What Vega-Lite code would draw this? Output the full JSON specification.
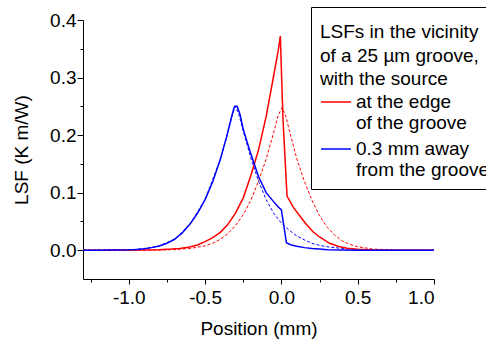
{
  "$schema": "https://vega.github.io/schema/vega-lite/v6.json",
  "width": 351,
  "height": 259,
  "autosize": {"type": "none"},
  "padding": {"left": 83, "top": 20, "right": 52, "bottom": 60},
  "background": "white",
  "config": {
    "font": "Liberation Sans",
    "view": {"stroke": null},
    "axis": {
      "domainColor": "black", "tickColor": "black", "labelColor": "black", "titleColor": "black",
      "labelFont": "Liberation Sans", "titleFont": "Liberation Sans",
      "labelFontSize": 19, "titleFontSize": 19, "titleFontWeight": "normal",
      "grid": false, "domainWidth": 1, "tickWidth": 1
    },
    "legend": {
      "orient": "none", "legendX": 228, "legendY": -13,
      "strokeColor": "black", "strokeWidth": 1, "padding": 9, "fillColor": "white",
      "titleFont": "Liberation Sans", "titleFontSize": 19, "titleFontWeight": "normal", "titleColor": "black",
      "titleLineHeight": 23.5, "titlePadding": 4,
      "labelFont": "Liberation Sans", "labelFontSize": 19, "labelColor": "black", "labelLineHeight": 23.5,
      "labelLimit": 400, "labelOffset": 4, "labelBaseline": "middle",
      "symbolType": "stroke", "symbolSize": 900, "symbolStrokeWidth": 1.5, "symbolDash": [],
      "rowPadding": -2
    }
  },
  "data": {
    "values": [
      {"s": "edge", "k": "s", "x": -1.3, "v": 0},
      {"s": "edge", "k": "s", "x": -1.1, "v": 0.0001},
      {"s": "edge", "k": "s", "x": -1.0, "v": 0.0002},
      {"s": "edge", "k": "s", "x": -0.9, "v": 0.0005},
      {"s": "edge", "k": "s", "x": -0.8, "v": 0.001},
      {"s": "edge", "k": "s", "x": -0.72, "v": 0.002},
      {"s": "edge", "k": "s", "x": -0.666, "v": 0.003},
      {"s": "edge", "k": "s", "x": -0.6, "v": 0.0055},
      {"s": "edge", "k": "s", "x": -0.55, "v": 0.009},
      {"s": "edge", "k": "s", "x": -0.5, "v": 0.015},
      {"s": "edge", "k": "s", "x": -0.45, "v": 0.022},
      {"s": "edge", "k": "s", "x": -0.4, "v": 0.031},
      {"s": "edge", "k": "s", "x": -0.35, "v": 0.045},
      {"s": "edge", "k": "s", "x": -0.3, "v": 0.065},
      {"s": "edge", "k": "s", "x": -0.25, "v": 0.091},
      {"s": "edge", "k": "s", "x": -0.2, "v": 0.13},
      {"s": "edge", "k": "s", "x": -0.15, "v": 0.174},
      {"s": "edge", "k": "s", "x": -0.1, "v": 0.232},
      {"s": "edge", "k": "s", "x": -0.05, "v": 0.304},
      {"s": "edge", "k": "s", "x": -0.02, "v": 0.348},
      {"s": "edge", "k": "s", "x": -0.007, "v": 0.372},
      {"s": "edge", "k": "s", "x": 0.0105, "v": 0.227},
      {"s": "edge", "k": "s", "x": 0.037, "v": 0.094},
      {"s": "edge", "k": "s", "x": 0.05, "v": 0.088},
      {"s": "edge", "k": "s", "x": 0.08, "v": 0.074},
      {"s": "edge", "k": "s", "x": 0.12, "v": 0.06},
      {"s": "edge", "k": "s", "x": 0.16, "v": 0.046},
      {"s": "edge", "k": "s", "x": 0.207, "v": 0.032},
      {"s": "edge", "k": "s", "x": 0.25, "v": 0.023},
      {"s": "edge", "k": "s", "x": 0.316, "v": 0.012},
      {"s": "edge", "k": "s", "x": 0.37, "v": 0.007},
      {"s": "edge", "k": "s", "x": 0.43, "v": 0.0035},
      {"s": "edge", "k": "s", "x": 0.5, "v": 0.0015},
      {"s": "edge", "k": "s", "x": 0.6, "v": 0.0005},
      {"s": "edge", "k": "s", "x": 0.8, "v": 0.0001},
      {"s": "edge", "k": "s", "x": 1.0, "v": 0},

      {"s": "edge", "k": "d", "x": -1.3, "v": 0},
      {"s": "edge", "k": "d", "x": -1.0, "v": 0.0001},
      {"s": "edge", "k": "d", "x": -0.8, "v": 0.0004},
      {"s": "edge", "k": "d", "x": -0.7, "v": 0.001},
      {"s": "edge", "k": "d", "x": -0.6, "v": 0.003},
      {"s": "edge", "k": "d", "x": -0.5, "v": 0.0075},
      {"s": "edge", "k": "d", "x": -0.45, "v": 0.012},
      {"s": "edge", "k": "d", "x": -0.4, "v": 0.019},
      {"s": "edge", "k": "d", "x": -0.35, "v": 0.029},
      {"s": "edge", "k": "d", "x": -0.3, "v": 0.043},
      {"s": "edge", "k": "d", "x": -0.25, "v": 0.062},
      {"s": "edge", "k": "d", "x": -0.2, "v": 0.087},
      {"s": "edge", "k": "d", "x": -0.15, "v": 0.12},
      {"s": "edge", "k": "d", "x": -0.1, "v": 0.158},
      {"s": "edge", "k": "d", "x": -0.05, "v": 0.205},
      {"s": "edge", "k": "d", "x": -0.02, "v": 0.235},
      {"s": "edge", "k": "d", "x": 0.005, "v": 0.248},
      {"s": "edge", "k": "d", "x": 0.03, "v": 0.232},
      {"s": "edge", "k": "d", "x": 0.05, "v": 0.21},
      {"s": "edge", "k": "d", "x": 0.1, "v": 0.16},
      {"s": "edge", "k": "d", "x": 0.15, "v": 0.12},
      {"s": "edge", "k": "d", "x": 0.2, "v": 0.087},
      {"s": "edge", "k": "d", "x": 0.25, "v": 0.06},
      {"s": "edge", "k": "d", "x": 0.3, "v": 0.04},
      {"s": "edge", "k": "d", "x": 0.35, "v": 0.026},
      {"s": "edge", "k": "d", "x": 0.4, "v": 0.016},
      {"s": "edge", "k": "d", "x": 0.45, "v": 0.01},
      {"s": "edge", "k": "d", "x": 0.5, "v": 0.006},
      {"s": "edge", "k": "d", "x": 0.6, "v": 0.002},
      {"s": "edge", "k": "d", "x": 0.7, "v": 0.0008},
      {"s": "edge", "k": "d", "x": 0.8, "v": 0.0003},
      {"s": "edge", "k": "d", "x": 1.0, "v": 0},

      {"s": "away", "k": "s", "x": -1.3, "v": 0},
      {"s": "away", "k": "s", "x": -1.2, "v": 0.0001},
      {"s": "away", "k": "s", "x": -1.1, "v": 0.0003},
      {"s": "away", "k": "s", "x": -1.0, "v": 0.0008},
      {"s": "away", "k": "s", "x": -0.95, "v": 0.0014},
      {"s": "away", "k": "s", "x": -0.9, "v": 0.0025},
      {"s": "away", "k": "s", "x": -0.85, "v": 0.0045},
      {"s": "away", "k": "s", "x": -0.8, "v": 0.0075},
      {"s": "away", "k": "s", "x": -0.75, "v": 0.012},
      {"s": "away", "k": "s", "x": -0.7, "v": 0.019},
      {"s": "away", "k": "s", "x": -0.65, "v": 0.03},
      {"s": "away", "k": "s", "x": -0.6, "v": 0.045},
      {"s": "away", "k": "s", "x": -0.55, "v": 0.064},
      {"s": "away", "k": "s", "x": -0.5, "v": 0.088},
      {"s": "away", "k": "s", "x": -0.45, "v": 0.119},
      {"s": "away", "k": "s", "x": -0.4, "v": 0.158},
      {"s": "away", "k": "s", "x": -0.36, "v": 0.196},
      {"s": "away", "k": "s", "x": -0.33, "v": 0.228},
      {"s": "away", "k": "s", "x": -0.31, "v": 0.248},
      {"s": "away", "k": "s", "x": -0.305, "v": 0.25},
      {"s": "away", "k": "s", "x": -0.29, "v": 0.25},
      {"s": "away", "k": "s", "x": -0.27, "v": 0.235},
      {"s": "away", "k": "s", "x": -0.25, "v": 0.21},
      {"s": "away", "k": "s", "x": -0.2, "v": 0.167},
      {"s": "away", "k": "s", "x": -0.15, "v": 0.128},
      {"s": "away", "k": "s", "x": -0.1, "v": 0.1},
      {"s": "away", "k": "s", "x": -0.05, "v": 0.084},
      {"s": "away", "k": "s", "x": -0.02, "v": 0.075},
      {"s": "away", "k": "s", "x": 0.0, "v": 0.07},
      {"s": "away", "k": "s", "x": 0.033, "v": 0.013},
      {"s": "away", "k": "s", "x": 0.06, "v": 0.0095},
      {"s": "away", "k": "s", "x": 0.1, "v": 0.0068},
      {"s": "away", "k": "s", "x": 0.15, "v": 0.0045},
      {"s": "away", "k": "s", "x": 0.2, "v": 0.003},
      {"s": "away", "k": "s", "x": 0.25, "v": 0.002},
      {"s": "away", "k": "s", "x": 0.3, "v": 0.001},
      {"s": "away", "k": "s", "x": 0.4, "v": 0.0003},
      {"s": "away", "k": "s", "x": 0.5, "v": 0},
      {"s": "away", "k": "s", "x": 1.0, "v": 0},

      {"s": "away", "k": "d", "x": -1.3, "v": 0},
      {"s": "away", "k": "d", "x": -1.0, "v": 0.0008},
      {"s": "away", "k": "d", "x": -0.9, "v": 0.0025},
      {"s": "away", "k": "d", "x": -0.8, "v": 0.0075},
      {"s": "away", "k": "d", "x": -0.7, "v": 0.019},
      {"s": "away", "k": "d", "x": -0.6, "v": 0.045},
      {"s": "away", "k": "d", "x": -0.5, "v": 0.088},
      {"s": "away", "k": "d", "x": -0.4, "v": 0.158},
      {"s": "away", "k": "d", "x": -0.35, "v": 0.205},
      {"s": "away", "k": "d", "x": -0.32, "v": 0.237},
      {"s": "away", "k": "d", "x": -0.3, "v": 0.25},
      {"s": "away", "k": "d", "x": -0.28, "v": 0.237},
      {"s": "away", "k": "d", "x": -0.25, "v": 0.207},
      {"s": "away", "k": "d", "x": -0.2, "v": 0.16},
      {"s": "away", "k": "d", "x": -0.15, "v": 0.12},
      {"s": "away", "k": "d", "x": -0.1, "v": 0.088},
      {"s": "away", "k": "d", "x": -0.05, "v": 0.064},
      {"s": "away", "k": "d", "x": 0.0, "v": 0.047},
      {"s": "away", "k": "d", "x": 0.05, "v": 0.035},
      {"s": "away", "k": "d", "x": 0.1, "v": 0.025},
      {"s": "away", "k": "d", "x": 0.15, "v": 0.018},
      {"s": "away", "k": "d", "x": 0.2, "v": 0.012},
      {"s": "away", "k": "d", "x": 0.25, "v": 0.0085},
      {"s": "away", "k": "d", "x": 0.3, "v": 0.006},
      {"s": "away", "k": "d", "x": 0.4, "v": 0.003},
      {"s": "away", "k": "d", "x": 0.5, "v": 0.0013},
      {"s": "away", "k": "d", "x": 0.6, "v": 0.0005},
      {"s": "away", "k": "d", "x": 0.8, "v": 0.0001},
      {"s": "away", "k": "d", "x": 1.0, "v": 0}
    ]
  },
  "encoding": {
    "color": {
      "field": "s", "type": "nominal",
      "scale": {"domain": ["edge", "away"], "range": ["#ff0000", "#0000ff"]},
      "legend": {
        "title": ["LSFs in the vicinity", "of a 25 µm groove,", "with the source"],
        "labelExpr": "datum.value == 'edge' ? ['at the edge', 'of the groove'] : ['0.3 mm away', 'from the groove']",
        "encode": {"title": {"update": {"dy": {"value": 7}}}}
      }
    }
  },
  "layer": [
    {
      "transform": [{"filter": "datum.k == 'd'"}],
      "mark": {"type": "line", "strokeWidth": 1, "strokeDash": [3, 2]},
      "encoding": {
        "x": {"field": "x", "type": "quantitative", "scale": {"domain": [-1.3, 1.0], "nice": false, "zero": false},
              "axis": {"orient": "bottom", "values": [-1.25, -0.75, -0.25, 0.25, 0.75], "labels": false, "domain": false, "tickSize": 3, "title": null}},
        "y": {"field": "v", "type": "quantitative", "scale": {"domain": [-0.05, 0.4], "nice": false, "zero": false},
              "axis": {"orient": "left", "values": [0.05, 0.15, 0.25, 0.35], "labels": false, "domain": false, "tickSize": 3, "title": null}}
      }
    },
    {
      "transform": [{"filter": "datum.k == 's'"}],
      "mark": {"type": "line", "strokeWidth": 1.5},
      "encoding": {
        "x": {"field": "x", "type": "quantitative",
              "axis": {"orient": "bottom", "values": [-1.0, -0.5, 0, 0.5, 1.0], "tickSize": 5, "labelPadding": 4,
                       "labelExpr": "datum.value < 0 ? '-' + format(-datum.value, '.1f') : format(datum.value, '.1f')",
                       "title": "Position (mm)", "titlePadding": 12}},
        "y": {"field": "v", "type": "quantitative",
              "axis": {"orient": "left", "values": [0, 0.1, 0.2, 0.3, 0.4], "tickSize": 6, "labelPadding": 1,
                       "labelExpr": "format(datum.value, '.1f')",
                       "title": "LSF (K m/W)", "titlePadding": 18}}
      }
    }
  ],
  "resolve": {"axis": {"x": "independent", "y": "independent"}}
}
